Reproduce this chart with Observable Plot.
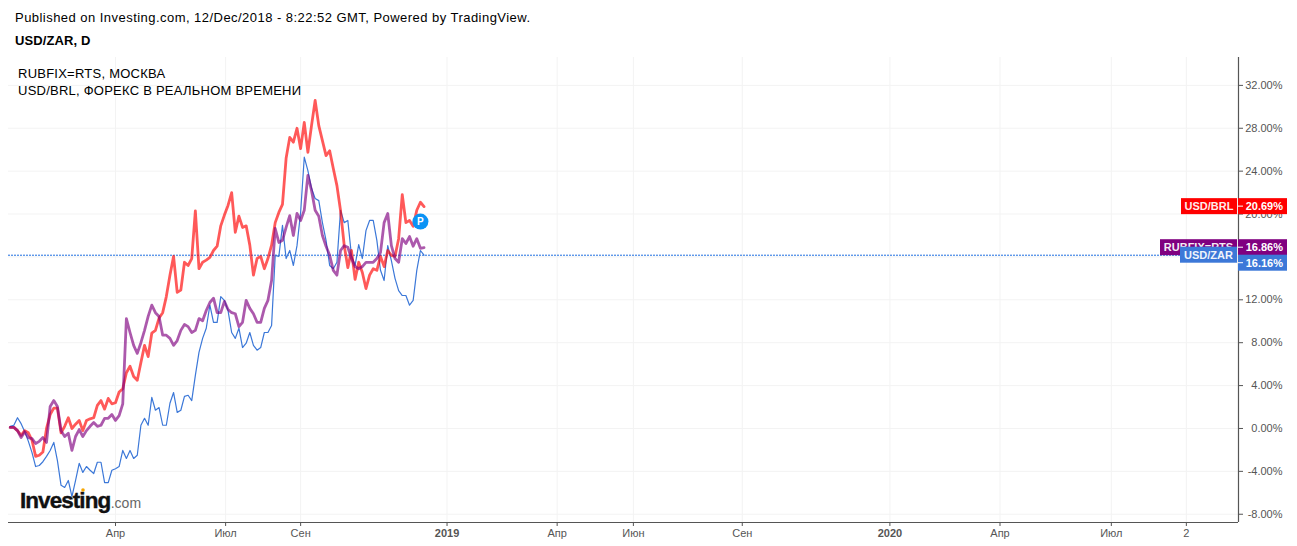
<!DOCTYPE html>
<html><head><meta charset="utf-8">
<script src="https://cdn.jsdelivr.net/npm/d3@7"></script>
<script src="https://cdn.jsdelivr.net/npm/@observablehq/plot@0.6"></script>
<style>
html,body{margin:0;padding:0;background:#fff;overflow:hidden}
body{width:1297px;height:546px;font-family:"Liberation Sans",Arial,sans-serif;color:#000}
#head{height:57px;position:relative}
#head div{position:absolute;left:15px;font-size:13px;white-space:nowrap}
#pub{top:10px;letter-spacing:.46px}
#sym{top:33px;font-weight:bold;letter-spacing:.1px}
svg{display:block}
</style></head><body>
<div id="head"><div id="pub">Published on Investing.com, 12/Dec/2018 - 8:22:52 GMT, Powered by TradingView.</div><div id="sym">USD/ZAR, D</div></div>
<div id="chart"></div>
<script>
const brl = [.1,.1,-.2,-.65,-.2,-.4,-1.1,-2.6,-2.5,-2.2,0,1.3,1.9,1.9,-.4,.2,1.0,0,.4,.75,-.2,.75,.9,1.0,2.15,2.6,1.8,2.8,2.3,2.4,3.4,3.7,5.2,5.8,4.85,4.5,6.15,7.75,6.7,8.9,9.15,10.3,10.8,12.3,14.3,16.05,12.7,12.9,15.5,15.2,15.85,20.3,14.9,15.5,15.7,15.95,16.6,17,18.9,19.9,20.8,22,18.3,19.8,18.75,18.9,17.1,14.3,15.85,16.05,14.9,15.85,17.1,19.2,20.15,20.9,25.2,27.15,26.7,28,26.1,28.55,25.75,28.25,30.6,28.25,26.85,25.45,25.9,24.25,22.65,20.3,17.1,15,16.6,13.9,15.5,14.55,13.05,14.3,14.9,14.75,16.05,15.1,16.6,16.15,16.05,17.7,21.8,19.2,19.4,18.85,20.35,21.1,20.69];
const rub = [.1,.1,-.2,-.85,-.3,-.85,-.95,-1.4,-1.2,-.85,-1.3,2.05,2.6,2.05,-.2,-.75,-.45,-2.05,-.75,-.1,-.75,-.2,.2,.55,.2,.3,.95,.95,1.3,.75,1.2,2.3,10.25,8.95,7.75,7,8,9.15,10.45,11.5,10.8,10.45,8.7,8.7,8.4,7.75,8.2,9.15,9.7,9.5,8.95,9.15,10.25,10.05,11,11.75,12.15,10.8,10.8,11.85,11.1,10.8,10.7,9.5,9.9,11.95,11.2,10.7,9.9,9.9,11.2,11.95,13.8,18.65,17.35,17.55,18.75,19.85,18,20.05,19.4,20.35,23.6,22.2,20.35,19.8,18,17,16.15,14.75,14.3,16.6,17.05,16.9,15.85,15.1,14.9,15.1,15.5,15.5,15.5,15.85,16.4,19.2,20.05,17.05,15.85,15.5,17.7,17.25,17.9,17,17.7,16.8,16.86];
const zar = [.2,.3,1.0,.45,-.3,-1.2,-2.25,-3.55,-3.45,-3.1,-2.6,-2.05,-1.3,-3,-5.3,-5.5,-4.85,-6.35,-4.85,-3.25,-4.1,-3.55,-3.9,-4.2,-3.15,-3.15,-5.05,-5.05,-3.9,-3.75,-3.55,-2.05,-2.8,-2.05,-2.8,-2.5,.3,.95,.3,2.9,1.7,1.95,.3,.3,2.35,3.35,1.5,1.7,3,3.1,2.6,4.95,7.1,8.4,9.35,11.5,9.9,9.9,12.3,11.95,11,8.95,8.4,9.35,7.55,7.95,8.95,7.75,7.3,7.55,8.95,8.95,9.6,16.15,16.05,18.95,15.85,16.6,15.2,17.05,20.15,25.3,24.05,22.4,21.45,21.25,19.2,17.55,15.2,14.9,15.5,20.35,19.2,19.4,16.15,15.2,17.15,15.85,18.45,19.4,19.4,17.55,14.75,13.8,17.05,15.65,14,12.85,12.4,12.4,11.5,11.95,14.75,16.6,16.16];
const firstDay = new Date(Date.UTC(2018,0,1));
const sampleDates = brl.map((_, i) => d3.utcDay.offset(firstDay, 3*(i+1)));
const monthTicks = ["2018-04-01","2018-07-01","2018-09-01","2019-04-01","2019-06-03","2019-09-01","2020-04-01","2020-07-02","2020-09-02"];
const monthLabels = ["Апр","Июл","Сен","Апр","Июн","Сен","Апр","Июл","2"];
const yearTicks = ["2018-12-31","2020-01-01"];
const yearLabels = ["2019","2020"];
const pctTicks = [-8,-4,0,4,8,12,16,20,24,28,32];
const legendLines = ["RUBFIX=RTS, МОСКВА","USD/BRL, ФОРЕКС В РЕАЛЬНОМ ВРЕМЕНИ"];
const priceLabels = [
  {name:"USD/BRL", value:20.69, color:"#ff0000", nameW:56, nameShift:0, valShift:0},
  {name:"RUBFIX=RTS", value:16.86, color:"#800080", nameW:77, nameShift:0, valShift:0},
  {name:"USD/ZAR", value:16.16, color:"#3c78d8", nameW:57, nameShift:0, valShift:8}
];
const badge = [{date:new Date(Date.UTC(2018,11,9)), value:19.3}];

const rows = sampleDates.map((date,i)=>({date, brl:brl[i], rub:rub[i], zar:zar[i]}));
const mTicks = monthTicks.map(d=>new Date(d+"T00:00Z"));
const yTicks = yearTicks.map(d=>new Date(d+"T00:00Z"));
const xDomain = [new Date(+firstDay+1.57*864e5), new Date(+firstDay+1018.1*864e5)];
const yDomain = [-8.77, 34.6];
const font = '"Liberation Sans",Arial,sans-serif';

function overlay(index, {x, y}, values, dims) {
  const right = dims.width - dims.marginRight;
  const g = d3.create("svg:g").attr("font-family",font).attr("text-anchor","start");
  legendLines.forEach((t,i)=>g.append("text").attr("x",18).attr("y",21+i*16.5)
    .attr("font-size",13).attr("letter-spacing",".24").attr("fill","#000").text(t));
  const logo = g.append("text").attr("x",20).attr("y",450.5);
  logo.append("tspan").attr("font-size",22.5).attr("font-weight","bold").attr("letter-spacing","-.95").attr("fill","#111").attr("stroke","#111").attr("stroke-width",.4).text("Investing");
  logo.append("tspan").attr("font-size",14).attr("fill","#666").attr("dx",.5).text(".com");
  g.append("circle").attr("cx",83).attr("cy",433).attr("r",1.8).attr("fill","#f7a600");
  priceLabels.forEach(p=>{
    const cy = y(p.value);
    const n = g.append("g"), v = g.append("g");
    n.append("rect").attr("x",right-p.nameW-1).attr("y",cy-8+p.nameShift).attr("width",p.nameW).attr("height",16).attr("fill",p.color);
    n.append("text").attr("x",right-p.nameW/2-1).attr("y",cy+4+p.nameShift).attr("text-anchor","middle")
      .attr("font-size",11).attr("font-weight","bold").attr("fill","#fff").attr("opacity",.92).text(p.name);
    v.append("rect").attr("x",right).attr("y",cy-8+p.valShift).attr("width",49).attr("height",16).attr("fill",p.color);
    v.append("line").attr("x1",right).attr("x2",right+5).attr("y1",cy+p.valShift).attr("y2",cy+p.valShift).attr("stroke","#fff");
    v.append("text").attr("x",right+45).attr("y",cy+4+p.valShift).attr("text-anchor","end")
      .attr("font-size",11).attr("font-weight","bold").attr("fill","#fff").text(p.value.toFixed(2)+"%");
  });
  return g.node();
}

const chart = Plot.plot({
  width:1297, height:489,
  marginLeft:8, marginRight:59, marginTop:0, marginBottom:24,
  style:{background:"#fff", fontFamily:font, overflow:"hidden"},
  x:{type:"utc", domain:xDomain},
  y:{domain:yDomain},
  marks:[
    Plot.ruleX([...mTicks,...yTicks],{stroke:"#f3f3f3", strokeWidth:1}),
    Plot.ruleY(pctTicks,{stroke:"#f3f3f3", strokeWidth:1}),
    Plot.ruleY([16.16],{stroke:"#1f6fe0", strokeWidth:1, strokeDasharray:"2,1"}),
    Plot.lineY(rows,{x:"date",y:"zar",stroke:"#3c78d8",strokeWidth:1.2}),
    Plot.lineY(rows,{x:"date",y:"brl",stroke:"#ff0000",strokeOpacity:.65,strokeWidth:2.8}),
    Plot.lineY(rows,{x:"date",y:"rub",stroke:"#800080",strokeOpacity:.65,strokeWidth:2.8}),
    Plot.ruleY([yDomain[0]],{stroke:"#555",strokeWidth:1.2}),
    Plot.ruleX([xDomain[1]],{stroke:"#555",strokeWidth:1.2}),
    Plot.axisX({ticks:mTicks,tickFormat:d=>monthLabels[mTicks.findIndex(t=>+t===+d)],label:null,tickSize:4,tickPadding:3,fontSize:11,color:"#555"}),
    Plot.axisX({ticks:yTicks,tickFormat:d=>yearLabels[yTicks.findIndex(t=>+t===+d)],label:null,tickSize:4,tickPadding:3,fontSize:11,fontWeight:"bold",color:"#555"}),
    Plot.axisY({ticks:pctTicks,anchor:"right",tickSize:4,tickFormat:()=>"",label:null,color:"#555"}),
    Plot.text(pctTicks,{y:d=>d,text:d=>d.toFixed(2)+"%",frameAnchor:"right",dx:44,textAnchor:"end",fontSize:11,fill:"#555"}),
    overlay,
    Plot.dot(badge,{x:"date",y:"value",r:8,fill:"#0a93f5"}),
    Plot.text(badge,{x:"date",y:"value",text:()=>"P",fill:"#fff",fontWeight:"bold",fontSize:10})
  ]
});
document.getElementById("chart").append(chart);
</script>
</body></html>
